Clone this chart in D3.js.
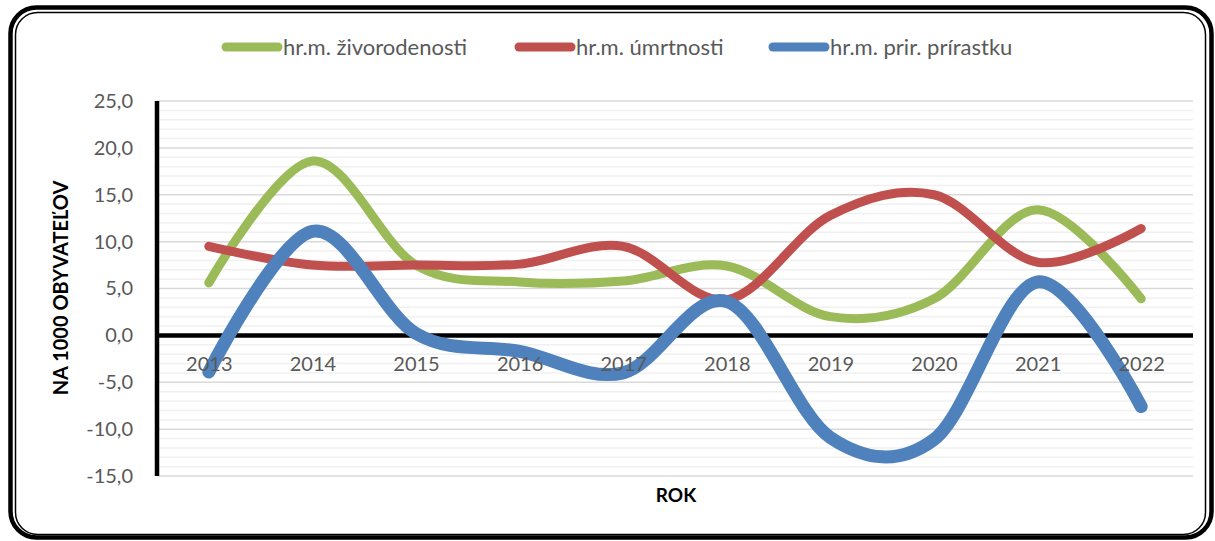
<!DOCTYPE html>
<html>
<head>
<meta charset="utf-8">
<script src="https://cdn.jsdelivr.net/npm/d3@7"></script>
<style>
  body { margin: 0; background: #fff; }
  svg { display: block; font-family: Lato, "Open Sans", sans-serif; }
</style>
</head>
<body>
<svg id="chart" width="1215" height="541"></svg>
<script>
// Years on the category axis
const years = ["2013", "2014", "2015", "2016", "2017", "2018", "2019", "2020", "2021", "2022"];

// Rates per 1000 inhabitants
const birthRate = [5.6, 18.6, 7.5, 5.7, 5.8, 7.4, 2.0, 3.9, 13.4, 3.9];
const deathRate = [9.5, 7.5, 7.5, 7.6, 9.5, 3.8, 12.8, 15.0, 7.8, 11.4];
const naturalIncrease = [-3.9, 11.1, 0.2, -1.7, -4.0, 3.6, -10.9, -11.1, 5.7, -7.6];

const seriesNames = ["hr.m. živorodenosti", "hr.m. úmrtnosti", "hr.m. prir. prírastku"];
const yTicks = [-15, -10, -5, 0, 5, 10, 15, 20, 25];

const colors = ["#9BBB59", "#C0504D", "#4F81BD"];
const widths = [9, 9, 13];

const svg = d3.select("#chart");

// double rounded border (Excel compound line)
svg.append("rect")
    .attr("x", 10.5).attr("y", 7.5).attr("width", 1201).attr("height", 530)
    .attr("rx", 26).attr("fill", "none").attr("stroke", "#000").attr("stroke-width", 4.5);
svg.append("rect")
    .attr("x", 15.5).attr("y", 12.5).attr("width", 1190).attr("height", 522)
    .attr("rx", 22).attr("fill", "none").attr("stroke", "#000").attr("stroke-width", 1.5);

const plot = { left: 157, right: 1193, top: 101, bottom: 476 };

const x = d3.scalePoint().domain(years).range([plot.left, plot.right]).padding(0.5);
const y = d3.scaleLinear().domain([-15, 25]).range([plot.bottom, plot.top]);

// minor + major gridlines
svg.append("g").selectAll("line")
    .data(d3.range(-15, 26, 1))
    .join("line")
    .attr("x1", plot.left).attr("x2", plot.right)
    .attr("y1", d => y(d)).attr("y2", d => y(d))
    .attr("stroke", d => d % 5 === 0 ? "#D9D9D9" : "#F0F0F0")
    .attr("stroke-width", 1.5);

// y axis labels
const fmt = d => d.toFixed(1).replace(".", ",");
const yAxis = svg.append("g")
    .attr("transform", `translate(${plot.left},0)`)
    .call(d3.axisLeft(y).tickValues(yTicks).tickFormat(fmt).tickSize(0).tickPadding(24));
yAxis.select(".domain").remove();
yAxis.selectAll("text").attr("font-size", 20).attr("fill", "#595959").attr("font-family", "Lato, sans-serif");

// axis lines
svg.append("line")
    .attr("x1", plot.left).attr("x2", plot.left)
    .attr("y1", y(25)).attr("y2", y(-15))
    .attr("stroke", "#000").attr("stroke-width", 4.5);
svg.append("line")
    .attr("x1", plot.left).attr("x2", plot.right)
    .attr("y1", y(0)).attr("y2", y(0))
    .attr("stroke", "#000").attr("stroke-width", 4.5);

// series
const line = d3.line()
    .x((d, i) => x(years[i]))
    .y(d => y(d))
    .curve(d3.curveCardinal.tension(0));

[birthRate, deathRate, naturalIncrease].forEach((s, i) => {
    svg.append("path")
        .attr("d", line(s))
        .attr("fill", "none")
        .attr("stroke", colors[i])
        .attr("stroke-width", widths[i])
        .attr("stroke-linecap", "round")
        .attr("stroke-linejoin", "round");
});

// x axis labels next to the zero line, drawn over the lines
const xAxis = svg.append("g")
    .attr("transform", `translate(0,${y(0)})`)
    .call(d3.axisBottom(x).tickSize(0).tickPadding(21));
xAxis.select(".domain").remove();
xAxis.selectAll("text").attr("font-size", 20).attr("fill", "#595959").attr("font-family", "Lato, sans-serif");

// axis titles
svg.append("text")
    .attr("x", 676).attr("y", 502)
    .attr("text-anchor", "middle")
    .attr("font-size", 19).attr("font-weight", "bold").attr("fill", "#000")
    .text("ROK");
svg.append("text")
    .attr("transform", "translate(68,288) rotate(-90)")
    .attr("text-anchor", "middle")
    .attr("font-size", 20).attr("font-weight", "bold").attr("fill", "#000")
    .text("NA 1000 OBYVATEĽOV");

// legend
const legendX = [222, 515, 769];
const legend = svg.append("g");
seriesNames.forEach((name, i) => {
    legend.append("line")
        .attr("x1", legendX[i] + 4).attr("x2", legendX[i] + 56)
        .attr("y1", 47).attr("y2", 47)
        .attr("stroke", colors[i]).attr("stroke-width", 9)
        .attr("stroke-linecap", "round");
    legend.append("text")
        .attr("x", legendX[i] + 61).attr("y", 55)
        .attr("font-size", 22).attr("fill", "#595959")
        .text(name);
});
</script>
</body>
</html>
